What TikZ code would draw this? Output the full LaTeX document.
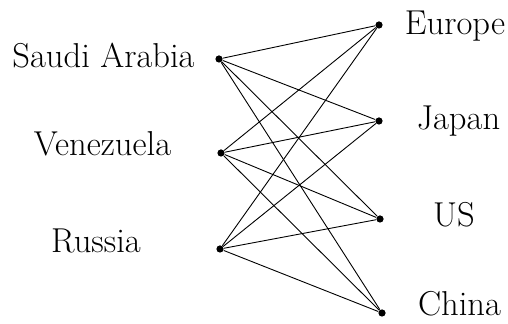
\documentclass[tikz,border=0pt]{standalone}
\begin{document}
\begin{tikzpicture}[
  x=0.5pt, y=-0.5pt,
  dot/.style={circle, fill, inner sep=0pt, minimum size=3.6pt},
  country/.style={font=\LARGE, anchor=base, inner sep=0pt},
  link/.style={line width=0.45pt}
]
  \useasboundingbox (0,0) rectangle (508,324);

  % exporters
  \node[dot] (saudi)  at (219,59)  {};
  \node[dot] (venez)  at (221,153) {};
  \node[dot] (russia) at (220,249) {};

  % importers
  \node[dot] (europe) at (379,25)  {};
  \node[dot] (japan)  at (379,121) {};
  \node[dot] (us)     at (380,219) {};
  \node[dot] (china)  at (382,313) {};

  \node[country] (saudilbl)  at (103.5,68) {Saudi Arabia};
  \node[country] (venezlbl)  at (102.5,156) {Venezuela};
  \node[country] (russialbl) at (96,253)   {Russia};

  \node[country] (europelbl) at (455,35)   {Europe};
  \node[country] (japanlbl)  at (458.5,130) {Japan};
  \node[country] (uslbl)     at (454,227)  {US};
  \node[country] (chinalbl)  at (459.5,316) {China};

  \foreach \a in {saudi,venez,russia}
    \foreach \b in {europe,japan,us,china}
      \draw[link] (\a) -- (\b);
\end{tikzpicture}
\end{document}
